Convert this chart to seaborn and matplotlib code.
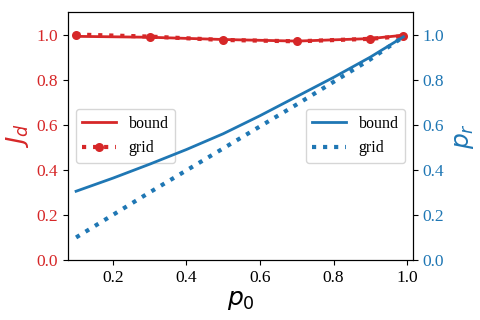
import matplotlib
matplotlib.use("Agg")
import matplotlib.pyplot as plt
import seaborn as sns
import pandas as pd

plt.rcParams['font.family'] = ['Liberation Serif', 'DejaVu Serif']
plt.rcParams['mathtext.fontset'] = 'dejavusans'

# J_d data
jd_bound_x = [0.1, 0.3, 0.5, 0.7, 0.9, 0.99]
jd_bound_y = [0.992, 0.988, 0.978, 0.971, 0.982, 0.997]
jd_grid_x = [0.1, 0.3, 0.5, 0.7, 0.9, 0.99]
jd_grid_y = [1.0, 0.991, 0.976, 0.970, 0.981, 0.993]

# p_r data
pr_bound_x = [0.1, 0.2, 0.3, 0.4, 0.5, 0.6, 0.7, 0.8, 0.9, 0.99]
pr_bound_y = [0.305, 0.363, 0.425, 0.49, 0.56, 0.64, 0.725, 0.81, 0.90, 0.99]
pr_grid_x = [0.1, 0.3, 0.5, 0.7, 0.9, 0.99]
pr_grid_y = [0.1, 0.3, 0.495, 0.69, 0.89, 0.99]

red = '#d62728'
blue = '#1f77b4'

fig = plt.figure(figsize=(4.8, 3.2), dpi=100)
ax = fig.add_axes([68/480, 1-260/320, (413-68)/480, (260-12)/320])
ax2 = ax.twinx()

sns.lineplot(x=jd_bound_x, y=jd_bound_y, ax=ax, color=red, linewidth=2, label='bound')
sns.lineplot(x=jd_grid_x, y=jd_grid_y, ax=ax, color=red, linewidth=3, linestyle=':',
             marker='o', markersize=6.5, markeredgewidth=0, label='grid')

sns.lineplot(x=pr_bound_x, y=pr_bound_y, ax=ax2, color=blue, linewidth=2, label='bound')
sns.lineplot(x=pr_grid_x, y=pr_grid_y, ax=ax2, color=blue, linewidth=3, linestyle=':', label='grid')

ax.set_xlim(0.078, 1.016)
ax.set_ylim(0, 1.1)
ax2.set_ylim(0, 1.1)
ax.set_xticks([0.2, 0.4, 0.6, 0.8, 1.0])
ax.set_yticks([0.0, 0.2, 0.4, 0.6, 0.8, 1.0])
ax2.set_yticks([0.0, 0.2, 0.4, 0.6, 0.8, 1.0])

ax.tick_params(axis='both', labelsize=12.5)
ax.tick_params(axis='y', labelcolor=red)
ax2.tick_params(axis='y', labelsize=12.5, labelcolor=blue)

ax.set_xlabel('$p_0$', fontsize=18, labelpad=2)
ax.set_ylabel('$J_d$', fontsize=18, color=red, labelpad=4)
ax2.set_ylabel('$p_r$', fontsize=18, color=blue, labelpad=6)

ax.legend(loc='center left', fontsize=11.5, handlelength=2.1, labelspacing=0.55)
ax2.legend(loc='center right', fontsize=11.5, handlelength=2.1, labelspacing=0.55)

fig.savefig('out.png', dpi=100)
